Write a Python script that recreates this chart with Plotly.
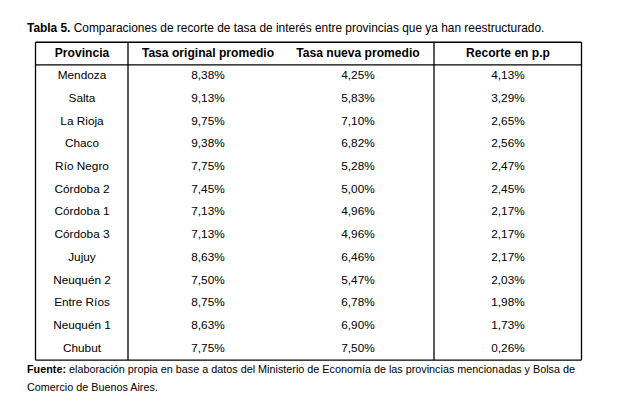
import plotly.graph_objects as go

# datos de la tabla
provincias = ["Mendoza", "Salta", "La Rioja", "Chaco", "Río Negro", "Córdoba 2",
              "Córdoba 1", "Córdoba 3", "Jujuy", "Neuquén 2", "Entre Ríos",
              "Neuquén 1", "Chubut"]
tasa_original = ["8,38%", "9,13%", "9,75%", "9,38%", "7,75%", "7,45%", "7,13%",
                 "7,13%", "8,63%", "7,50%", "8,75%", "8,63%", "7,75%"]
tasa_nueva = ["4,25%", "5,83%", "7,10%", "6,82%", "5,28%", "5,00%", "4,96%",
              "4,96%", "6,46%", "5,47%", "6,78%", "6,90%", "7,50%"]
recorte = ["4,13%", "3,29%", "2,65%", "2,56%", "2,47%", "2,45%", "2,17%",
           "2,17%", "2,17%", "2,03%", "1,98%", "1,73%", "0,26%"]
encabezados = ["Provincia", "Tasa original promedio", "Tasa nueva promedio", "Recorte en p.p"]

titulo = "<b>Tabla 5.</b> Comparaciones de recorte de tasa de interés entre provincias que ya han reestructurado."
fuente_1 = "<b>Fuente:</b> elaboración propia en base a datos del Ministerio de Economía de las provincias mencionadas y Bolsa de"
fuente_2 = "Comercio de Buenos Aires."

# layout (x en pixeles, y en filas)
col_x = [74, 200, 350, 500]
lineas_v = [27.5, 120, 426, 573.5]
W, H = 625, 404
y_fila0, paso = 68.3, 22.7
FONT = "Liberation Sans, Arial, sans-serif"

filas = list(range(len(provincias)))
columnas = [provincias, tasa_original, tasa_nueva, recorte]

fig = go.Figure()

# encabezado
fig.add_trace(go.Scatter(
    x=col_x, y=[-1] * 4, mode="text",
    text=["<b>%s</b>" % h for h in encabezados],
    textfont=dict(family=FONT, size=12.1, color="#000"),
    hoverinfo="skip", showlegend=False))

# celdas
for cx, valores in zip(col_x, columnas):
    fig.add_trace(go.Scatter(
        x=[cx] * len(valores), y=filas, mode="text", text=valores,
        textfont=dict(family=FONT, size=11.8, color="#000"),
        hoverinfo="skip", showlegend=False))

# bordes
top, head_bot, bottom = -1.5, -0.5, len(provincias) - 0.5
lw = 1.3
for y in [top, head_bot, bottom]:
    fig.add_shape(type="line", xref="x", yref="y", x0=lineas_v[0], x1=lineas_v[-1],
                  y0=y, y1=y, line=dict(color="#000", width=lw))
for x in lineas_v:
    fig.add_shape(type="line", xref="x", yref="y", x0=x, x1=x,
                  y0=top, y1=bottom, line=dict(color="#000", width=lw))

fig.add_annotation(text=titulo, xref="paper", yref="paper", x=17 / W, y=1 - 20 / H,
                   xanchor="left", yanchor="middle", showarrow=False,
                   font=dict(family=FONT, size=11.9, color="#000"))
fig.add_annotation(text=fuente_1, xref="paper", yref="paper", x=17 / W, y=1 - 360.5 / H,
                   xanchor="left", yanchor="middle", showarrow=False,
                   font=dict(family=FONT, size=10.8, color="#000"))
fig.add_annotation(text=fuente_2, xref="paper", yref="paper", x=17 / W, y=1 - 378.5 / H,
                   xanchor="left", yanchor="middle", showarrow=False,
                   font=dict(family=FONT, size=10.8, color="#000"))

fig.update_layout(
    width=W, height=H,
    margin=dict(l=0, r=0, t=0, b=0),
    paper_bgcolor="white", plot_bgcolor="white",
    xaxis=dict(range=[0, W], visible=False, fixedrange=True),
    yaxis=dict(range=[(H - y_fila0) / paso, -y_fila0 / paso], visible=False, fixedrange=True),
)

fig.write_html("out.html")
